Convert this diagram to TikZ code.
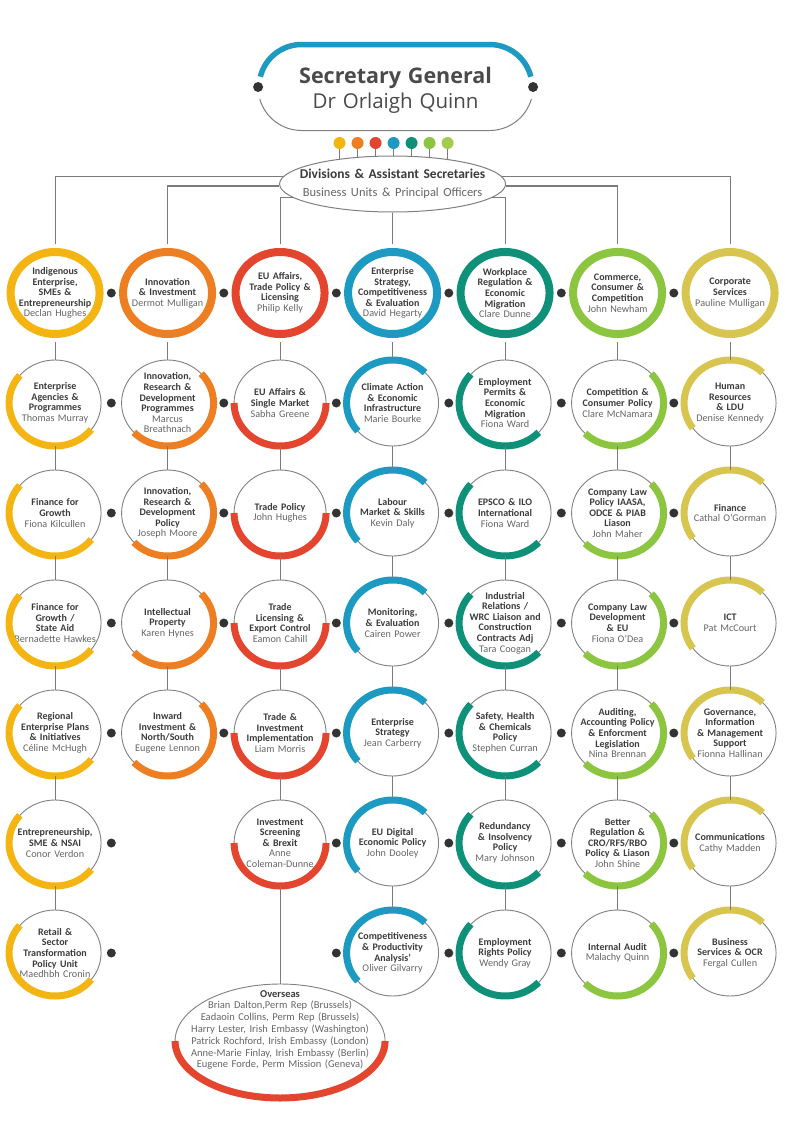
\documentclass[tikz,border=0pt]{standalone}
\usepackage{fontspec}
\setmainfont{Carlito}
\newfontfamily\titlefont{Open Sans}
\usetikzlibrary{shapes.geometric}

\definecolor{col1}{HTML}{F4B512}
\definecolor{col2}{HTML}{EE7E22}
\definecolor{col3}{HTML}{E4452F}
\definecolor{col4}{HTML}{1C9AC1}
\definecolor{col5}{HTML}{0F9079}
\definecolor{col6}{HTML}{8CC540}
\definecolor{col7}{HTML}{D7C54F}
\definecolor{ball7}{HTML}{A5CB4E}
\definecolor{ringgrey}{HTML}{808080}
\definecolor{linegrey}{HTML}{7B7B7B}
\definecolor{headgrey}{HTML}{3C3C3C}
\definecolor{officer}{HTML}{666666}
\definecolor{dotgrey}{HTML}{333333}
\definecolor{titlegrey}{HTML}{4A4A4A}

% one business unit: ring node plus its text
\newcommand{\unitat}[6][unit]{%
  \node[#1] (#2) at ({55+112.5*(#3-1)},{-293-110*(#4-1)}) {};
  \node[unittext] (#2t) at (#2) {\textbf{#5}\\{\fontsize{10.2}{10.6}\selectfont\color{officer}#6}};}

\begin{document}
\begin{tikzpicture}[x=1pt,y=1pt]
	\tikzstyle{connector} = [draw=linegrey,line width=1.1pt];
	\tikzstyle{unit} = [ellipse,draw=ringgrey,line width=0.9pt,minimum width=92pt,minimum height=86pt,inner sep=0pt];
	\tikzstyle{division} = [ellipse,line width=8pt,minimum width=89pt,minimum height=82pt,inner sep=0pt];
	\tikzstyle{unittext} = [text width=94pt,align=center,inner sep=0pt,text=headgrey,font=\fontsize{10}{10.6}\selectfont];
	\tikzstyle{band} = [line width=7pt];
	\tikzstyle{spot} = [circle,fill=dotgrey,minimum size=9pt,inner sep=0pt];
	\tikzstyle{ball} = [circle,minimum size=12pt,inner sep=0pt];

	\fill[white] (0,0) rectangle (784,-1146);

	% secretary general
	\node[text width=240pt,align=center,text=titlegrey,font=\titlefont\fontsize{20.5}{25}\selectfont] (sg) at (395.5,-90) {{\fontsize{21.5}{25}\selectfont\bfseries Secretary General}\\Dr Orlaigh Quinn};
	\coordinate (sgl) at (301.5,-87);
	\coordinate (sgr) at (489.5,-87);
	\draw[col4,line width=5.5pt] ([shift={(166:42.5)}]sgl) arc[start angle=166,end angle=90,radius=42.5] -- ([shift={(90:42.5)}]sgr) arc[start angle=90,end angle=14,radius=42.5];
	\draw[ringgrey,line width=1pt] ([shift={(196:43.5)}]sgl) arc[start angle=196,end angle=270,radius=43.5] -- ([shift={(270:43.5)}]sgr) arc[start angle=270,end angle=344,radius=43.5];
	\node[spot,minimum size=10pt] (sgw) at ([xshift=-43.5pt]sgl) {};
	\node[spot,minimum size=10pt] (sge) at ([xshift=43.5pt]sgr) {};

	% divisions
	\coordinate (divc) at (392.5,-184);
	\foreach \i/\cl in {1/col1,2/col2,3/col3,4/col4,5/col5,6/col6,7/ball7} {
		\node[ball,fill=\cl] (b\i) at ({321.5+18*\i},-143) {};
		\draw[connector,line width=0.9pt] (b\i) -- (b\i |- divc);
	}
	\node[ellipse,draw=ringgrey,line width=1pt,fill=white,minimum width=226pt,minimum height=56pt,inner sep=0pt] (div) at (divc) {};
	\node[text width=224pt,align=center,text=headgrey,font=\fontsize{13.5}{18}\selectfont] (divt) at (div) {\textbf{Divisions \& Assistant Secretaries}\\{\fontsize{12.5}{18}\selectfont\color{officer}Business Units \& Principal Officers}};

	% assistant secretaries
	\unitat[division,draw=col1]{u11}{1}{1}{Indigenous\\Enterprise,\\SMEs \&\\Entrepreneurship}{Declan Hughes}
	\unitat[division,draw=col2]{u12}{2}{1}{Innovation\\\& Investment}{Dermot Mulligan}
	\unitat[division,draw=col3]{u13}{3}{1}{EU Affairs,\\Trade Policy \&\\Licensing}{Philip Kelly}
	\unitat[division,draw=col4]{u14}{4}{1}{Enterprise\\Strategy,\\Competitiveness\\\& Evaluation}{David Hegarty}
	\unitat[division,draw=col5]{u15}{5}{1}{Workplace\\Regulation \&\\Economic\\Migration}{Clare Dunne}
	\unitat[division,draw=col6]{u16}{6}{1}{Commerce,\\Consumer \&\\Competition}{John Newham}
	\unitat[division,draw=col7]{u17}{7}{1}{Corporate\\Services}{Pauline Mulligan}

	\unitat{u21}{1}{2}{Enterprise\\Agencies \&\\Programmes}{Thomas Murray}
	\unitat{u31}{1}{3}{Finance for\\Growth}{Fiona Kilcullen}
	\unitat{u41}{1}{4}{Finance for\\Growth /\\State Aid}{Bernadette Hawkes}
	\unitat{u51}{1}{5}{Regional\\Enterprise Plans\\\& Initiatives}{Céline McHugh}
	\unitat{u61}{1}{6}{Entrepreneurship,\\SME \& NSAI}{Conor Verdon}
	\unitat{u71}{1}{7}{Retail \&\\Sector\\Transformation\\Policy Unit}{Maedhbh Cronin}

	\unitat{u22}{2}{2}{Innovation,\\Research \&\\Development\\Programmes}{Marcus\\Breathnach}
	\unitat{u32}{2}{3}{Innovation,\\Research \&\\Development\\Policy}{Joseph Moore}
	\unitat{u42}{2}{4}{Intellectual\\Property}{Karen Hynes}
	\unitat{u52}{2}{5}{Inward\\Investment \&\\North/South}{Eugene Lennon}

	\unitat{u23}{3}{2}{EU Affairs \&\\Single Market}{Sabha Greene}
	\unitat{u33}{3}{3}{Trade Policy}{John Hughes}
	\unitat{u43}{3}{4}{Trade\\Licensing \&\\Export Control}{Eamon Cahill}
	\unitat{u53}{3}{5}{Trade \&\\Investment\\Implementation}{Liam Morris}
	\unitat{u63}{3}{6}{Investment\\Screening\\\& Brexit}{Anne\\Coleman-Dunne}

	\unitat{u24}{4}{2}{Climate Action\\\& Economic\\Infrastructure}{Marie Bourke}
	\unitat{u34}{4}{3}{Labour\\Market \& Skills}{Kevin Daly}
	\unitat{u44}{4}{4}{Monitoring,\\\& Evaluation}{Cairen Power}
	\unitat{u54}{4}{5}{Enterprise\\Strategy}{Jean Carberry}
	\unitat{u64}{4}{6}{EU Digital\\Economic Policy}{John Dooley}
	\unitat{u74}{4}{7}{Competitiveness\\\& Productivity\\Analysis'}{Oliver Gilvarry}

	\unitat{u25}{5}{2}{Employment\\Permits \&\\Economic\\Migration}{Fiona Ward}
	\unitat{u35}{5}{3}{EPSCO \& ILO\\International}{Fiona Ward}
	\unitat{u45}{5}{4}{Industrial\\Relations /\\WRC Liaison and\\Construction\\Contracts Adj}{Tara Coogan}
	\unitat{u55}{5}{5}{Safety, Health\\\& Chemicals\\Policy}{Stephen Curran}
	\unitat{u65}{5}{6}{Redundancy\\\& Insolvency\\Policy}{Mary Johnson}
	\unitat{u75}{5}{7}{Employment\\Rights Policy}{Wendy Gray}

	\unitat{u26}{6}{2}{Competition \&\\Consumer Policy}{Clare McNamara}
	\unitat{u36}{6}{3}{Company Law\\Policy IAASA,\\ODCE \& PIAB\\Liason}{John Maher}
	\unitat{u46}{6}{4}{Company Law\\Development\\\& EU}{Fiona O'Dea}
	\unitat{u56}{6}{5}{Auditing,\\Accounting Policy\\\& Enforcment\\Legislation}{Nina Brennan}
	\unitat{u66}{6}{6}{Better\\Regulation \&\\CRO/RFS/RBO\\Policy \& Liason}{John Shine}
	\unitat{u76}{6}{7}{Internal Audit}{Malachy Quinn}

	\unitat{u27}{7}{2}{Human\\Resources\\\& LDU}{Denise Kennedy}
	\unitat{u37}{7}{3}{Finance}{Cathal O'Gorman}
	\unitat{u47}{7}{4}{ICT}{Pat McCourt}
	\unitat{u57}{7}{5}{Governance,\\Information\\\& Management\\Support}{Fionna Hallinan}
	\unitat{u67}{7}{6}{Communications}{Cathy Madden}
	\unitat{u77}{7}{7}{Business\\Services \& OCR}{Fergal Cullen}

	% overseas
	\node[ellipse,draw=ringgrey,line width=0.9pt,minimum width=210pt,minimum height=114pt,inner sep=0pt] (ovs) at (280,-1041) {};
	\draw[band,color=col3] ([shift={(180:105 and 57)}]ovs.center) arc[start angle=180,end angle=360,x radius=105,y radius=57];
	\node[text width=210pt,align=center,inner sep=0pt,text=officer,font=\fontsize{10.5}{11.8}\selectfont] (ovst) at ([yshift=11pt]ovs.center) {{\color{headgrey}\bfseries Overseas}\\Brian Dalton,Perm Rep (Brussels)\\Eadaoin Collins, Perm Rep (Brussels)\\Harry Lester, Irish Embassy (Washington)\\Patrick Rochford, Irish Embassy (London)\\Anne-Marie Finlay, Irish Embassy (Berlin)\\Eugene Forde, Perm Mission (Geneva)};

	% coloured bands
	\foreach \cc/\nn/\a/\b in {1/7/140/322,2/5/43/-137,3/6/180/360,4/7/45/221,5/7/138/317,6/7/43/-135,7/7/45/216}
		\foreach \rr in {2,...,\nn}
			\draw[band,color=col\cc] ([shift={(\a:46 and 43)}]u\rr\cc.center) arc[start angle=\a,end angle=\b,x radius=46,y radius=43];

	% connectors
	\draw[connector,shorten >=4pt] (div.176) -| (u11);
	\draw[connector,shorten >=4pt] (div.4) -| (u17);
	\draw[connector,shorten >=4pt] (div.181) -| (u12);
	\draw[connector,shorten >=4pt] (div.359) -| (u16);
	\draw[connector,shorten >=4pt] (div.188) -| (u13);
	\draw[connector,shorten >=4pt] (div.352) -| (u15);
	\draw[connector,shorten >=4pt] (div) -- (u14);
	\foreach \cc/\nn in {1/7,2/5,3/6,4/7,5/7,6/7,7/7} {
		\draw[connector,shorten <=4pt] (u1\cc) -- (u2\cc);
		\foreach \rr in {3,...,\nn} {
			\pgfmathtruncatemacro\pp{\rr-1}
			\draw[connector] (u\pp\cc) -- (u\rr\cc);
		}
	}
	\draw[connector] (u63) -- (ovs);

	% dots between units
	\foreach \rr in {1,...,5}
		\foreach \cc in {1,...,6}
			\node[spot] (s\rr\cc) at ({111.25+112.5*(\cc-1)},{-293-110*(\rr-1)}) {};
	\foreach \rr in {6,7}
		\foreach \cc in {1,3,4,5,6}
			\node[spot] (s\rr\cc) at ({111.25+112.5*(\cc-1)},{-293-110*(\rr-1)}) {};
\end{tikzpicture}
\end{document}
